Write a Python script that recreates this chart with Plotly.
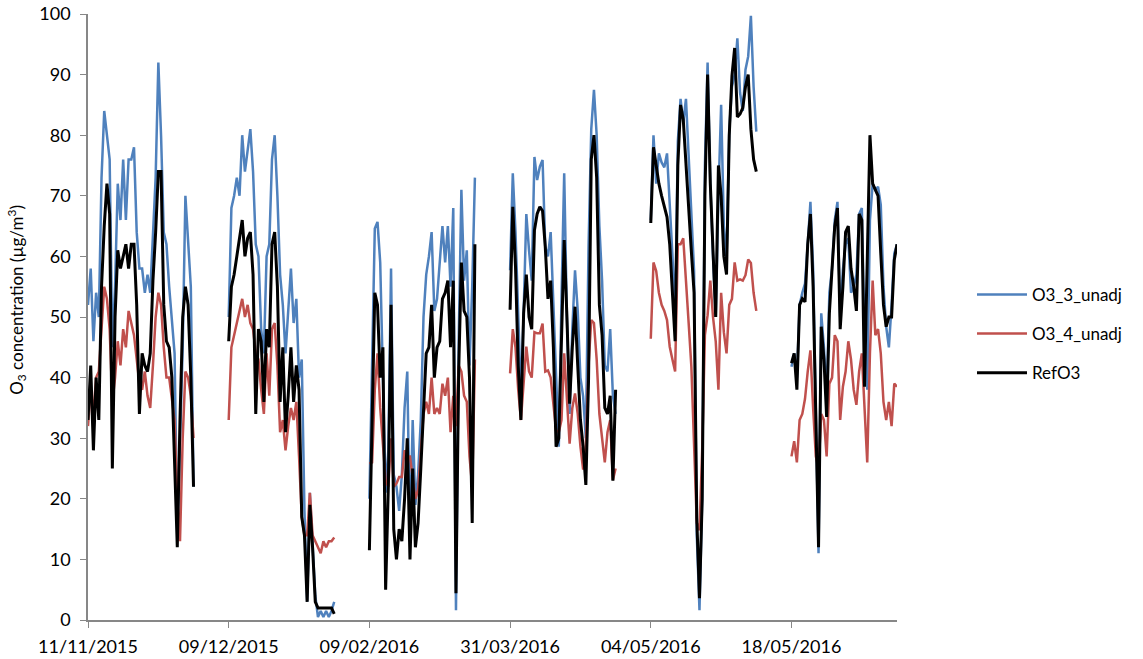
import plotly.graph_objects as go

# Six measurement campaigns; each label is the first day of a campaign
CAMPAIGN_LABELS = ["11/11/2015", "09/12/2015", "09/02/2016", "31/03/2016", "04/05/2016", "18/05/2016"]
ROWS_PER_CAMPAIGN = 52  # data rows + blank rows reserved for each campaign

# O3_3_unadj (µg/m3), one list per campaign
O3_3_C1 = [52, 58, 46, 54, 50, 73, 84, 80, 76, 45, 55, 72, 66, 76, 66, 76, 76, 78, 64, 58,
           58, 54, 57, 54, 64, 73, 92, 80, 64, 62, 55, 50, 44, 14, 30, 45, 70, 62, 55, 22]
O3_3_C2 = [50, 68, 70, 73, 70, 80, 74, 78, 81, 74, 62, 60, 48, 44, 60, 62, 76, 80, 70, 57,
           52, 44, 52, 58, 49, 53, 40, 43, 18, 3, 21, 13, 4, 0.5, 1.5, 0.5, 1.5, 0.5, 1.5, 3]
O3_3_C3 = [20, 45, 64.6, 65.7, 59, 40, 21, 28, 58, 24, 22, 18, 24, 35, 41, 13, 33, 19, 24, 33,
           50, 57, 60, 64, 51, 53, 59, 65, 59, 65, 55, 68, 1.6, 46, 71, 56, 61, 42, 55, 73]
O3_3_C4 = [57.7, 73.7, 64, 50, 37, 50.6, 67, 61, 56, 76.4, 72.6, 74.8, 75.9, 61.6, 60, 64, 52, 39.6, 28.6, 53,
           73.7, 50, 34, 48, 57.7, 51, 40, 36.9, 30, 61.6, 81, 87.5, 80, 65, 56, 42, 41, 48, 37, 34]
O3_3_C5 = [66, 80, 72, 77, 75.5, 74.7, 77, 69.4, 60.2, 50, 79, 86, 82, 86, 76, 65.5, 57.6, 14, 1.6, 20,
           75, 92, 72, 60, 50, 70, 85, 65, 59.5, 80.6, 88, 90, 96, 87, 84, 90.8, 93, 99.7, 88, 80.6]
O3_3_C6 = [41.8, 44, 40, 52, 54, 55.5, 62, 69, 58, 36, 11, 50.6, 45, 36.5, 54, 58, 66, 69, 50, 57.8,
           62, 63, 54, 55, 57, 67, 68, 46.8, 38, 66, 72, 71, 71.5, 68.5, 55, 48.4, 45, 52, 60.5, 62]

# O3_4_unadj (µg/m3)
O3_4_C1 = [32, 38, 34, 40, 41, 48, 55, 53, 48, 36, 40, 46, 42, 48, 45, 51, 49, 47, 43, 39,
           38, 41, 37, 35, 42, 50, 54, 52, 45, 40, 40, 36, 33, 20, 13, 30, 41, 40, 37, 30]
O3_4_C2 = [33, 45, 47, 49, 51, 53, 50, 52, 49, 48, 44, 43, 38, 34, 44, 37, 48, 49, 42, 31,
           33, 28, 32, 35, 33, 36, 27, 17, 14, 14, 21, 14, 13, 12, 11, 13, 12, 13, 13, 13.6]
O3_4_C3 = [25.8, 26, 38, 44, 35, 29, 23, 22, 30, 22, 22.5, 23.6, 23.6, 28, 27, 27, 23, 20, 21.5, 28,
           34, 36, 34, 40, 34, 35, 34, 39, 37, 40, 31, 37, 32, 42, 41, 37, 36, 27, 22, 43]
O3_4_C4 = [40.7, 48, 45, 38, 33, 39.6, 45.1, 41, 40, 47.5, 47.3, 47.3, 48.9, 41, 41.2, 40, 35, 31.3, 31, 33,
           44, 36, 29.1, 35, 37.4, 34, 28.6, 24.8, 29, 42, 49.5, 49, 43, 34, 30, 26, 31, 33, 23.1, 25]
O3_4_C5 = [46.4, 59, 57.6, 54, 52, 51, 49.5, 45.1, 43, 41, 62, 62, 63, 55, 49, 41.8, 30, 16, 14.8, 28,
           47, 50.3, 56, 50, 46, 38, 54, 47.5, 44, 52, 53, 59, 56, 56.2, 56, 56.9, 59.5, 58.9, 54, 51]
O3_4_C6 = [27, 29.5, 26, 33, 34, 36.5, 41, 44.5, 35, 27, 25, 34, 33, 27, 39, 40, 47, 46, 33, 38.5,
           41, 46, 43, 38, 35.5, 41, 44, 35, 26, 44, 56, 47, 48, 44, 36, 33, 36, 32, 39, 38.5]

# RefO3 reference analyser (µg/m3)
REF_C1 = [33, 42, 28, 40, 33, 55, 65, 72, 67, 25, 50, 61, 58, 60, 62, 58, 62, 62, 52, 34,
          44, 42, 41, 44, 56, 64, 74, 74, 52, 46, 45, 40, 27, 12, 33, 50, 55, 52, 40, 22]
REF_C2 = [46, 55, 57, 60, 63, 66, 60, 63, 64, 57, 34, 48, 46, 36, 48, 45, 62, 64, 55, 36,
          45, 31, 37, 45, 36, 42, 38, 17, 14, 3, 19, 12, 3, 2, 2, 2, 2, 2, 2, 1]
REF_C3 = [11.5, 35, 54, 52, 40, 45, 5, 22, 52, 15, 10, 15, 13, 20, 30, 10, 25, 12, 16, 25,
          35, 44, 45, 52, 40, 45, 46, 53, 54, 56, 45, 56, 4.4, 41, 59, 51, 50, 40, 16, 62]
REF_C4 = [51.2, 68.2, 58.3, 42, 33, 50.6, 57, 50, 48, 64.3, 67, 68.2, 67.5, 61.6, 53, 56, 45, 28.6, 30, 45,
          62.7, 50, 35.7, 45, 51.7, 42, 33, 28.6, 22.3, 39.6, 76, 80, 73, 52, 47, 35, 34, 37, 23, 38]
REF_C5 = [65.5, 78, 75, 72, 70, 68.1, 66.5, 62, 53.6, 46, 75, 85, 82.6, 75, 67, 60.8, 54, 16.8, 3.6, 20,
          70, 90, 72, 60, 50, 75, 70, 60, 57, 80, 89.8, 94.4, 83, 83.5, 84.5, 88, 90, 81, 76, 74]
REF_C6 = [42.4, 44, 38, 52, 53, 52.5, 62, 67, 55, 36, 12, 48.4, 43, 33.5, 50.6, 58, 65, 68, 48, 55,
          64, 65, 58, 55, 51, 67, 66, 38.5, 60.5, 80, 72, 71, 70, 60.5, 52, 48.4, 50, 50, 59.4, 62]

SERIES = [
    ("O3_3_unadj", "#4F81BD", 2.5, [O3_3_C1, O3_3_C2, O3_3_C3, O3_3_C4, O3_3_C5, O3_3_C6]),
    ("O3_4_unadj", "#C0504D", 2.5, [O3_4_C1, O3_4_C2, O3_4_C3, O3_4_C4, O3_4_C5, O3_4_C6]),
    ("RefO3", "#000000", 3, [REF_C1, REF_C2, REF_C3, REF_C4, REF_C5, REF_C6]),
]


def campaign_rows(campaigns):
    """Lay campaigns out on a shared row index, leaving blank rows between them."""
    xs, ys = [], []
    for k, vals in enumerate(campaigns):
        start = k * ROWS_PER_CAMPAIGN
        xs.extend(start + i for i in range(len(vals)))
        ys.extend(vals)
        xs.append(None)
        ys.append(None)
    return xs, ys


fig = go.Figure()
for name, color, width, campaigns in SERIES:
    xs, ys = campaign_rows(campaigns)
    fig.add_trace(go.Scatter(
        x=xs, y=ys, mode="lines", name=name, legendgroup=name,
        line=dict(color=color, width=width), connectgaps=False,
    ))

last_row = (len(CAMPAIGN_LABELS) - 1) * ROWS_PER_CAMPAIGN + len(O3_3_C6) - 1
tick_rows = [k * ROWS_PER_CAMPAIGN for k in range(len(CAMPAIGN_LABELS))]

axis_grey = "#878787"
font_family = "Lato, 'Open Sans', sans-serif"

fig.update_layout(
    width=1143, height=659,
    margin=dict(l=88, r=246, t=14, b=39),
    paper_bgcolor="white", plot_bgcolor="white",
    font=dict(family=font_family, size=18, color="#000000"),
    showlegend=True,
    legend=dict(
        x=1.0927, xanchor="left", y=0.472, yanchor="middle",
        traceorder="grouped", tracegroupgap=14, itemwidth=50,
        font=dict(family=font_family, size=17, color="#000000"),
        bgcolor="rgba(0,0,0,0)",
    ),
    xaxis=dict(
        range=[0, last_row], tickmode="array", tickvals=tick_rows, ticktext=CAMPAIGN_LABELS,
        showgrid=False, zeroline=False, showline=True, linecolor=axis_grey, linewidth=1.5,
        ticks="outside", ticklen=6, tickcolor=axis_grey, tickwidth=1,
        ticklabelstandoff=4, automargin=False,
    ),
    yaxis=dict(
        range=[0, 100], dtick=10, showgrid=False, zeroline=False,
        showline=True, linecolor=axis_grey, linewidth=1.5,
        ticks="outside", ticklen=6, tickcolor=axis_grey, tickwidth=1,
        ticklabelstandoff=6, automargin=False,
    ),
    annotations=[dict(
        text="O<sub>3</sub> concentration (µg/m<sup>3</sup>)",
        xref="paper", yref="paper", x=-0.088, y=0.528,
        xanchor="center", yanchor="middle", textangle=-90, showarrow=False,
        font=dict(family=font_family, size=17, color="#000000"),
    )],
)

fig.write_html("out.html")
